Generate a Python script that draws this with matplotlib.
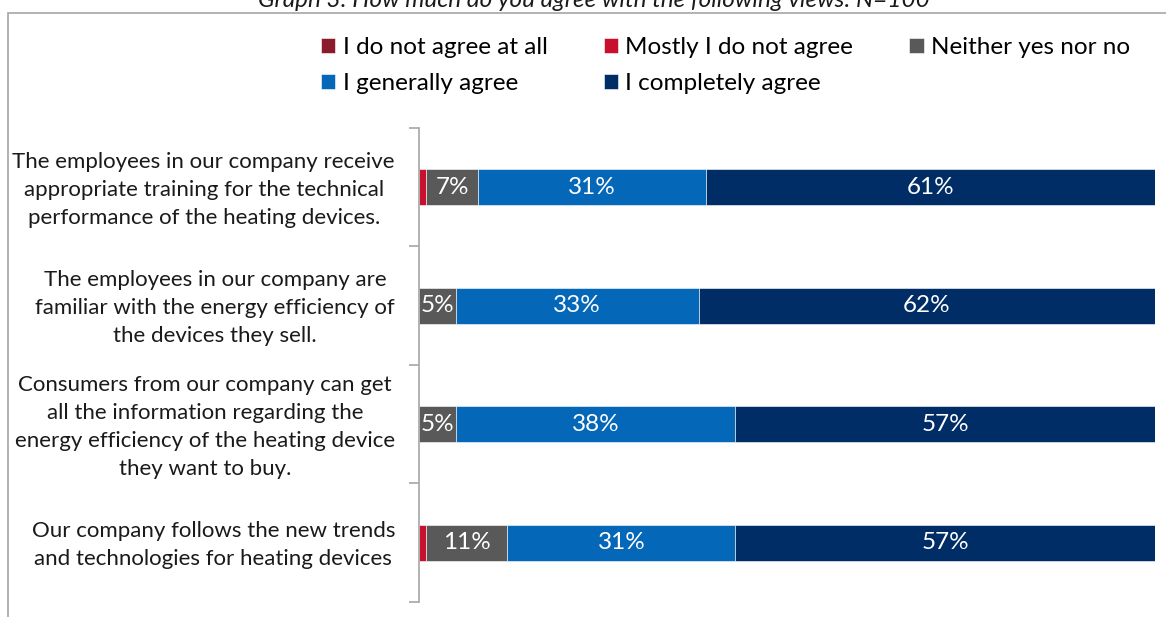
import numpy as np
import matplotlib.pyplot as plt
from matplotlib.patches import Rectangle

plt.rcParams['font.family'] = ['Lato', 'DejaVu Sans']

statements = [
    "The employees in our company receive\nappropriate training for the technical\nperformance of the heating devices.",
    "The employees in our company are\nfamiliar with the energy efficiency of\nthe devices they sell.",
    "Consumers from our company can get\nall the information regarding the\nenergy efficiency of the heating device\nthey want to buy.",
    "Our company follows the new trends\nand technologies for heating devices",
]
answers = ["I do not agree at all", "Mostly I do not agree", "Neither yes nor no",
           "I generally agree", "I completely agree"]

# percent of respondents per answer, one list per statement
not_at_all = [0, 0, 0, 0]
mostly_not = [1, 0, 0, 1]
neither = [7, 5, 5, 11]
generally = [31, 33, 38, 31]
completely = [61, 62, 57, 57]

colors_ans = ["#8B1A2C", "#C8102E", "#595959", "#0567B8", "#002D66"]
series = [not_at_all, mostly_not, neither, generally, completely]

W, H = 1166, 617
fig = plt.figure(figsize=(W / 100, H / 100), dpi=100)
ax_w = 1155 - 419
ax = fig.add_axes([419 / W, 1 - 602 / H, ax_w / W, (602 - 128) / H])

y = np.arange(len(statements))
left = np.zeros(len(statements))
handles = []
for vals, col, name in zip(series, colors_ans, answers):
    vals = np.array(vals, dtype=float)
    bars = ax.barh(y, vals, left=left, height=0.3, color=col, label=name,
                   edgecolor="white", linewidth=0.4)
    handles.append(bars)
    for yi, v, l in zip(y, vals, left):
        if v >= 5:
            ax.text(l + v / 2, yi, f"{v:.0f}%", ha="center", va="center",
                    color="white", fontsize=17.5)
    left += vals

ax.set_xlim(0, 100)
ax.set_ylim(3.5, -0.5)
ax.set_xticks([])
for s in ["top", "right", "bottom"]:
    ax.spines[s].set_visible(False)
ax.spines["left"].set_color("#A6A6A6")
ax.spines["left"].set_linewidth(1.2)

# statement labels, centred lines, right edge just left of the axis
ax.set_yticks([])
ax.set_yticks(np.arange(-0.5, 4.0, 1.0), minor=True)
ax.tick_params(axis="y", which="minor", length=7, color="#A6A6A6", width=1.2)
for yi, txt in zip(y, statements):
    ax.text(-24 / ax_w, yi + 0.02, txt, transform=ax.get_yaxis_transform(),
            ha="right", va="center", multialignment="center",
            fontsize=16, linespacing=1.5, color="#1A1A1A")

# legend laid out row-wise over three columns
order = [0, 3, 1, 4, 2]
fig.legend([handles[i] for i in order], [answers[i] for i in order],
           ncol=3, loc="upper left", bbox_to_anchor=(299 / W, 1 - 15 / H),
           frameon=False, fontsize=17.5, handlelength=0.6, handleheight=0.6,
           handletextpad=0.3, columnspacing=2.3, labelspacing=0.62)

# outer frame and title
fig.patches.append(Rectangle((8 / W, -0.1), 1.2, 1 - 13 / H + 0.1,
                             transform=fig.transFigure, fill=False,
                             edgecolor="#A6A6A6", linewidth=1.2))
fig.text(594 / W, 1 - 7 / H, "Graph 3: How much do you agree with the following views: N=100",
         ha="center", va="baseline", fontsize=17.5, style="italic", color="#1A1A1A")

fig.savefig("out.png", dpi=100)
